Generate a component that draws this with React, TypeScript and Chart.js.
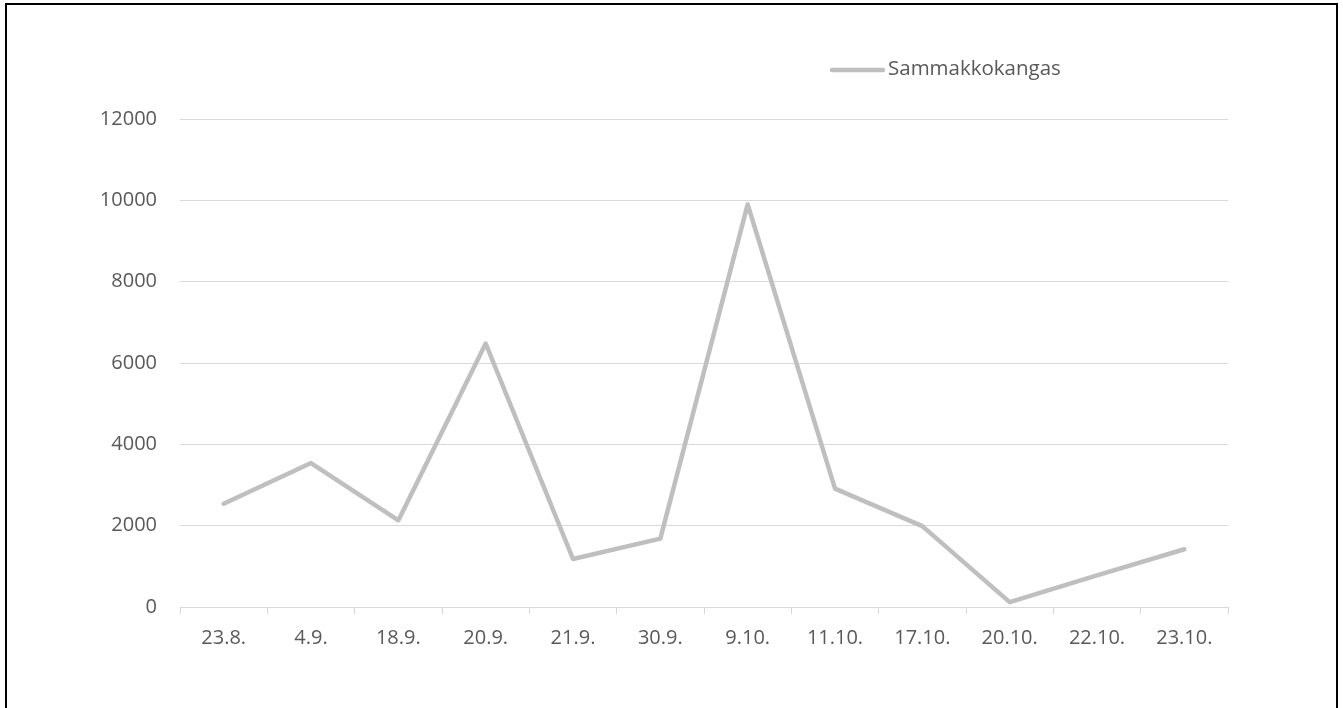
import React, { useEffect, useRef } from "react";
import { Chart, registerables } from "chart.js";

Chart.register(...registerables);

const categories = ["23.8.", "4.9.", "18.9.", "20.9.", "21.9.", "30.9.", "9.10.", "11.10.", "17.10.", "20.10.", "22.10.", "23.10."];
const sammakkokangas = [2540, 3540, 2130, 6480, 1180, 1680, 9900, 2910, 1990, 120, 780, 1420];
const seriesName = "Sammakkokangas";
const yMax = 12000;
const yStep = 2000;

const FONT = "'Open Sans', 'Noto Sans', sans-serif";
const TEXT = "#595959";
const GRID = "#d9d9d9";
const LINE = "#bfbfbf";

// Legend entry drawn above the plot, to the right of centre
const legendPlugin = {
  id: "lineLegend",
  afterDraw(chart: Chart) {
    const ctx = chart.ctx;
    const ds = chart.data.datasets[0] as any;
    ctx.save();
    ctx.strokeStyle = ds.borderColor;
    ctx.lineWidth = 4.5;
    ctx.lineCap = "round";
    ctx.beginPath();
    ctx.moveTo(832, 70);
    ctx.lineTo(883, 70);
    ctx.stroke();
    ctx.fillStyle = TEXT;
    ctx.font = `20.5px ${FONT}`;
    ctx.textBaseline = "middle";
    ctx.textAlign = "left";
    ctx.fillText(String(ds.label), 888, 69);
    ctx.restore();
  },
};

export default function App() {
  const canvasRef = useRef<HTMLCanvasElement | null>(null);

  useEffect(() => {
    const canvas = canvasRef.current;
    if (!canvas) return;
    const chart = new Chart(canvas, {
      type: "line",
      data: {
        labels: categories,
        datasets: [
          {
            label: seriesName,
            data: sammakkokangas,
            borderColor: LINE,
            backgroundColor: LINE,
            borderWidth: 4.5,
            borderCapStyle: "round",
            borderJoinStyle: "round",
            pointRadius: 0,
            pointHoverRadius: 0,
            tension: 0,
            fill: false,
          },
        ],
      },
      options: {
        responsive: false,
        animation: false,
        devicePixelRatio: 1,
        layout: { padding: { top: 119, right: 115, bottom: 0, left: 0 } },
        plugins: {
          legend: { display: false },
          tooltip: { enabled: false },
          title: { display: false },
        },
        scales: {
          x: {
            type: "category",
            offset: true,
            grid: {
              offset: true,
              drawOnChartArea: false,
              drawTicks: true,
              tickLength: 7,
              color: GRID,
              lineWidth: 1,
            },
            border: { display: true, color: GRID, width: 1 },
            ticks: {
              color: TEXT,
              font: { family: FONT, size: 20 },
              padding: 12,
              maxRotation: 0,
              autoSkip: false,
            },
            afterFit(scale: any) {
              scale.height = 101;
            },
          },
          y: {
            min: 0,
            max: yMax,
            grid: { drawTicks: false, color: GRID, lineWidth: 1 },
            border: { display: false },
            ticks: {
              stepSize: yStep,
              color: TEXT,
              font: { family: FONT, size: 20 },
              padding: 23,
              callback: (value: any) => String(value),
            },
            afterFit(scale: any) {
              scale.width = 180;
            },
          },
        },
      },
      plugins: [legendPlugin],
    });
    return () => chart.destroy();
  }, []);

  return (
    <div
      style={{
        position: "fixed",
        left: 0,
        top: 0,
        width: 1343,
        height: 708,
        background: "#ffffff",
        overflow: "hidden",
      }}
    >
      <div
        style={{
          position: "absolute",
          left: 5,
          top: 3,
          width: 1329,
          height: 720,
          border: "2px solid #000000",
        }}
      />
      <canvas
        ref={canvasRef}
        width={1343}
        height={708}
        style={{ position: "absolute", left: 0, top: 0, width: 1343, height: 708 }}
      />
    </div>
  );
}
